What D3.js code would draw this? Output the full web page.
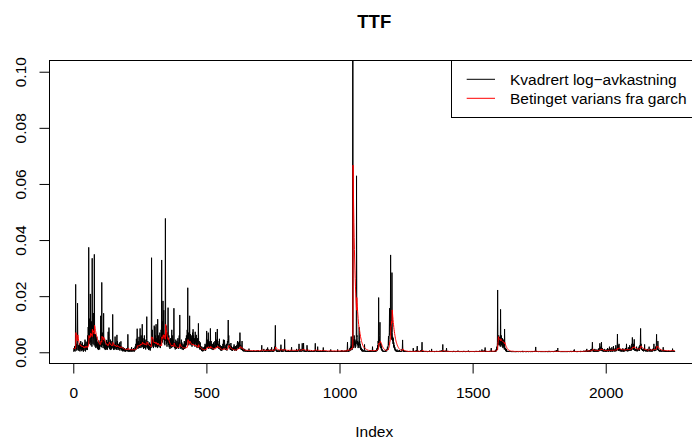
<!DOCTYPE html>
<html>
<head>
<meta charset="utf-8">
<script src="https://cdn.jsdelivr.net/npm/d3@7"></script>
<style>
  html, body { margin: 0; padding: 0; background: #ffffff; }
  svg { display: block; font-family: "Liberation Sans", Arial, Helvetica, sans-serif; }
</style>
</head>
<body>
<svg id="chart" width="692" height="441"></svg>
<script>
// Squared daily log returns for TTF, in units of 1e-4, for index 1..n
const sqLogReturn = [
2,8,15,4,22,10,3,28,242,40,12,30,6,18,55,175,20,8,25,14,5,18,32,9,3,22,12,40,7,16,28,4,11,35,8,20,15,2,26,10,6,30,18,45,12,3,22,38,9,15,
14,35,8,60,25,90,40,374,70,30,55,120,35,208,80,25,60,110,45,20,335,60,95,30,140,50,70,25,349,85,40,20,65,30,15,45,22,56,18,30,12,38,25,8,20,42,15,28,10,35,
20,45,130,30,60,18,249,50,25,70,35,15,40,139,22,30,12,48,20,8,25,14,32,10,44,18,28,9,36,15,73,20,40,88,55,12,30,25,8,45,18,30,10,22,40,15,28,135,35,12,
20,8,30,15,25,10,56,18,35,12,22,9,28,62,15,40,20,8,30,14,25,10,18,35,6,22,12,28,39,15,8,20,5,14,10,3,18,6,12,4,9,15,3,7,12,2,10,5,8,14,
6,3,10,4,64,12,5,2,8,4,3,9,2,6,4,12,3,5,18,2,7,4,10,3,6,15,4,8,2,12,5,20,8,14,30,10,48,15,25,84,20,35,12,40,18,28,55,15,30,22,
85,25,40,15,60,30,20,45,100,35,18,50,25,12,38,20,60,15,30,45,22,10,35,18,48,127,30,15,25,40,12,30,8,20,14,35,10,25,6,18,30,15,50,337,60,25,80,40,20,35,
15,45,20,95,30,90,25,60,18,40,100,35,20,50,28,15,118,40,22,60,30,18,45,25,70,35,15,55,28,80,40,329,60,110,35,70,183,45,90,150,50,30,65,25,85,477,60,40,95,30,
55,20,70,35,45,159,40,25,60,18,30,45,12,25,50,20,35,15,40,80,25,60,30,18,45,22,35,157,40,20,15,35,10,25,45,18,30,12,40,22,15,28,50,20,35,12,45,60,25,133,
40,20,30,12,25,45,15,35,10,22,18,30,8,25,14,20,40,12,28,15,35,20,50,30,60,25,45,80,40,230,50,35,70,25,45,40,130,55,30,65,40,25,60,35,50,20,45,70,30,82,
40,60,25,45,30,50,20,73,35,55,30,62,20,45,15,35,50,25,40,103,30,15,40,20,10,25,35,12,22,8,15,5,20,10,3,12,8,18,4,10,6,14,20,8,30,12,5,25,15,40,
76,20,35,15,45,25,70,30,12,40,20,35,15,25,85,30,12,40,18,25,10,30,15,22,8,18,35,12,25,15,20,40,15,30,72,25,45,18,35,30,83,25,40,15,30,20,12,25,48,18,
10,25,8,18,5,15,22,6,12,20,8,30,15,45,25,12,35,44,20,10,18,8,25,12,30,15,6,20,40,25,50,115,35,60,20,30,15,25,10,18,8,33,15,22,6,12,18,5,10,14,
8,20,12,28,15,6,18,10,22,8,14,5,18,25,12,30,40,20,15,35,12,25,18,40,22,70,30,15,25,10,18,8,22,40,12,6,15,4,10,3,8,5,12,3,6,2,9,4,7,3,
2,5,3,1,6,2,4,1,3,13,2,4,1,3,5,1,2,6,1,3,4,1,2,5,1,3,2,7,1,2,3,1,5,2,1,4,2,1,6,2,1,3,2,8,1,2,4,1,3,2,
1,4,2,6,1,3,10,25,2,5,1,3,2,4,8,12,2,1,5,3,2,6,1,4,9,3,12,2,5,17,3,6,2,10,4,1,8,3,5,2,6,3,12,4,18,2,7,3,1,5,
3,8,2,12,5,20,8,30,96,15,6,10,3,7,2,5,1,4,8,2,3,6,1,4,2,8,3,12,5,27,4,2,7,1,5,3,10,2,6,4,3,12,8,46,6,3,9,2,5,1,
4,2,6,1,3,5,2,8,1,3,2,5,1,4,2,6,3,1,9,18,2,4,1,3,6,2,1,5,3,2,4,1,7,2,3,1,5,2,12,3,1,4,2,8,3,6,14,30,4,2,
5,2,8,3,12,4,2,6,10,32,4,8,3,15,33,5,2,7,3,1,4,2,6,1,3,8,2,25,5,12,3,1,5,2,4,1,6,2,3,1,2,5,1,3,7,2,1,4,2,3,
1,4,2,6,3,8,2,10,32,5,3,7,2,4,1,6,3,20,2,5,1,3,2,5,1,4,2,1,6,2,3,1,4,2,5,1,8,3,17,2,4,1,3,2,6,1,2,4,1,3,
2,1,3,1,4,2,1,3,2,1,3,2,5,1,2,4,10,2,1,3,1,2,1,4,2,1,3,1,2,5,1,3,2,1,4,1,2,3,1,2,4,1,10,2,1,3,2,1,4,2,
1,3,2,5,1,2,4,1,8,2,3,1,5,2,1,4,2,6,1,3,2,5,1,3,8,2,4,1,12,36,5,2,8,3,1,6,10,4,15,8,20,6,30,56,12,25,8,18,40,4000,
30,15,45,20,60,50,25,40,15,35,20,45,30,629,55,60,25,40,30,15,35,20,45,89,25,40,15,30,10,20,8,15,5,12,3,10,6,2,8,4,5,2,7,28,3,6,1,4,2,5,
1,3,2,6,1,4,2,1,5,2,3,1,4,2,8,1,3,2,5,1,2,6,3,20,4,1,5,2,3,1,4,2,6,1,3,8,2,5,10,4,15,6,25,10,40,30,195,20,45,35,
60,107,25,40,15,30,10,20,6,12,4,8,2,5,1,3,6,2,4,1,3,5,2,8,4,10,3,6,12,20,15,8,30,58,25,45,70,157,60,100,80,347,120,60,90,45,284,70,40,55,
30,50,20,35,15,25,10,18,6,12,4,8,3,6,2,10,4,1,5,3,2,6,1,4,8,2,3,1,5,2,4,1,3,10,6,15,44,5,2,8,3,1,4,2,6,1,3,2,1,4,
1,2,1,3,1,2,4,1,2,1,3,1,2,1,5,2,1,3,1,2,1,4,2,1,3,6,15,2,1,3,1,2,5,1,3,1,2,8,1,4,10,22,3,1,2,5,1,3,1,2,
4,1,2,6,1,3,8,2,12,36,3,1,5,2,1,3,1,4,2,1,2,1,3,1,5,2,1,2,4,1,1,3,2,1,4,1,2,6,1,3,1,2,1,4,2,12,1,3,1,2,
1,2,1,3,1,1,4,2,1,2,3,1,2,1,5,1,2,1,3,1,2,4,1,2,1,3,1,6,2,1,3,1,2,5,8,2,10,28,3,1,2,4,1,3,1,2,6,1,2,1,
4,15,2,1,3,1,2,5,1,2,1,3,1,2,1,4,1,2,1,3,1,2,1,1,3,1,2,1,5,1,2,1,3,1,2,1,1,4,1,2,1,3,1,2,6,1,2,1,3,1,
2,1,1,3,1,2,1,4,1,2,1,1,3,1,2,1,5,1,2,1,3,1,2,1,1,4,1,2,1,3,1,2,1,6,1,2,1,3,1,1,2,1,4,1,2,1,3,1,2,1,
3,1,2,1,4,1,2,1,1,3,1,2,5,1,2,1,3,1,2,1,4,1,2,1,3,1,6,2,1,3,1,2,4,1,10,2,1,3,6,2,1,4,2,8,3,5,17,2,4,1,
2,1,3,1,2,4,1,2,1,3,1,2,5,1,3,2,1,4,8,15,2,1,3,1,2,1,4,2,1,3,2,1,5,3,1,6,2,10,4,12,20,8,35,222,40,25,50,60,30,45,
25,55,35,20,153,40,30,60,25,45,20,50,35,15,30,45,20,25,10,83,20,10,15,5,8,3,12,2,6,1,4,2,3,1,5,2,1,3,1,2,1,3,1,2,1,1,4,1,2,1,
1,2,1,1,3,1,1,2,1,1,2,1,1,4,1,1,2,1,3,1,1,2,1,1,3,1,2,1,1,2,1,1,3,1,2,1,1,5,1,1,2,1,1,3,1,2,1,1,2,1,
1,3,1,1,2,1,4,1,1,2,1,1,2,1,3,1,1,2,1,1,3,1,2,1,1,4,1,2,1,3,1,2,1,5,2,6,19,3,1,2,4,1,2,1,3,1,1,2,1,3,
1,2,1,1,3,1,2,1,1,4,1,1,2,1,3,1,1,2,1,1,2,1,4,1,1,2,1,3,1,1,1,3,1,2,1,1,5,1,2,1,1,2,1,1,3,1,2,1,4,1,
2,1,1,3,1,2,1,5,1,2,1,3,6,2,8,1,4,2,10,15,3,1,2,4,1,2,1,3,1,1,2,1,1,3,1,2,1,1,4,1,1,2,1,3,1,1,2,1,1,3,
1,1,2,1,4,1,1,2,1,3,1,2,1,1,3,1,2,1,5,1,1,2,1,3,1,4,1,2,6,2,3,10,2,1,4,1,2,1,3,1,1,2,1,4,1,1,3,1,2,1,
2,1,3,1,1,5,1,2,1,3,1,4,2,1,3,1,2,6,1,2,3,1,4,2,6,1,3,8,12,2,4,1,6,2,3,5,1,8,2,4,6,2,10,3,5,12,4,8,15,36,
6,3,10,2,5,8,1,4,12,3,7,2,5,10,3,6,1,4,8,2,5,12,3,8,15,4,10,32,6,12,8,20,5,36,10,4,15,6,3,10,5,2,8,4,12,3,6,1,5,9,
3,7,2,10,4,6,15,3,8,2,5,12,4,20,6,3,9,2,14,5,8,3,18,6,2,10,4,7,22,5,3,12,6,9,2,15,5,25,8,4,10,6,20,65,12,8,25,5,15,30,
8,15,4,10,6,3,12,5,8,2,6,10,3,14,5,8,2,12,4,7,3,9,5,15,6,10,4,30,8,12,5,3,10,6,18,4,8,12,6,25,10,5,15,8,20,6,12,30,15,53,
25,10,18,8,30,12,46,15,6,10,5,12,8,4,10,20,6,3,8,5,12,6,15,8,20,10,5,25,12,35,85,20,30,10,15,8,12,5,10,6,8,3,12,6,10,28,5,8,3,6,
4,10,6,3,8,2,12,5,7,3,6,10,20,4,8,2,5,12,3,6,4,8,2,10,5,3,12,6,15,8,30,6,10,4,12,8,20,5,15,25,64,15,10,20,8,40,12,6,10,4,
8,3,6,2,10,4,7,2,5,3,6,2,8,4,10,18,3,6,2,5,3,7,2,4,1,6,3,2,5,1,4,2,3,1,6,2,4,1,3,2,5,1,3,2,4,1,2,6,3,2,
13,4,2,6,3,1,5,2,4,3
];

// Conditional variance from the fitted GARCH model, same units and indexing
const garchVariance = [
15,14,14,15,14,15,14,14,15,70,62,56,50,45,42,40,62,55,48,43,38,34,32,31,28,25,25,23,25,22,21,22,20,19,21,19,20,18,17,19,17,16,18,18,21,19,17,19,21,19,
19,18,19,18,22,21,27,26,60,56,51,51,57,54,68,68,62,61,65,61,56,82,78,78,72,76,72,70,65,96,92,85,77,75,70,64,61,56,55,50,47,43,42,40,36,34,34,31,31,28,
29,28,29,39,37,39,36,57,55,51,52,49,45,44,53,49,46,42,42,39,35,33,31,31,28,29,27,27,25,26,24,29,28,29,34,36,33,32,30,27,28,26,26,24,24,26,24,24,35,34,
31,29,27,27,25,24,22,25,23,23,21,21,19,20,24,22,23,22,20,21,20,20,18,18,19,17,18,17,18,20,19,17,17,16,15,15,14,14,13,13,12,12,12,11,11,11,10,10,10,10,
10,10,9,10,9,15,14,13,12,12,11,10,10,9,9,9,9,9,9,10,9,9,9,9,9,9,10,9,9,9,9,9,10,10,10,12,12,15,15,16,23,22,23,22,23,22,22,25,24,24,
23,29,28,29,27,30,29,28,29,36,35,32,33,31,29,30,28,31,29,29,30,28,26,27,25,27,37,35,32,31,31,29,29,27,26,24,25,23,23,21,20,21,20,23,55,54,50,52,50,46,
42,38,36,33,36,34,36,33,34,31,30,35,33,30,30,28,26,33,31,29,29,27,26,25,24,27,25,23,25,23,26,25,55,52,55,50,49,61,56,57,63,58,53,50,47,47,100,90,80,76,
69,63,57,53,49,46,52,48,43,41,37,35,33,30,28,27,25,24,22,22,26,24,25,23,22,22,21,20,33,31,28,26,24,22,21,21,20,19,18,18,17,16,16,17,16,17,16,18,20,19,
30,28,26,24,22,21,21,20,19,18,17,17,16,16,15,15,15,16,15,15,15,15,15,16,16,18,17,18,22,22,45,42,39,38,35,33,31,40,38,35,35,33,30,30,28,28,26,26,28,26,
29,27,27,25,25,23,24,22,25,23,24,22,24,21,21,19,19,20,18,18,27,25,22,21,20,18,17,17,16,15,14,13,12,12,11,10,10,10,10,9,9,9,9,10,9,10,10,9,10,10,
11,17,16,17,15,17,16,20,19,17,17,16,17,15,15,21,20,18,19,17,17,15,15,14,13,12,12,13,12,12,11,11,13,12,13,18,17,18,16,17,17,22,21,20,18,18,17,15,15,17,
15,14,14,12,12,11,11,11,10,10,10,9,10,10,12,12,11,12,14,13,12,12,11,11,10,11,10,9,9,11,11,14,23,23,24,22,22,20,19,17,15,14,15,14,13,12,12,11,10,10,
10,9,9,8,9,9,8,8,8,8,8,8,8,8,9,9,10,12,12,12,13,12,13,13,15,15,20,20,18,18,16,16,14,14,16,14,13,12,11,10,9,9,8,8,7,7,7,7,7,7,
7,7,7,7,7,7,7,7,6,6,7,7,6,6,6,6,6,6,6,6,6,6,6,6,6,6,6,6,6,6,6,6,6,6,6,6,6,6,6,6,6,6,6,6,6,6,6,6,6,6,
6,6,6,6,6,6,6,7,9,8,8,8,7,7,7,7,8,7,7,7,7,7,7,7,7,7,7,8,7,7,8,8,7,7,7,7,7,7,7,7,7,7,7,8,7,9,8,8,7,7,
7,7,7,7,7,7,9,9,11,19,18,16,15,14,13,12,11,10,10,9,9,9,9,8,8,8,8,8,8,8,10,9,9,8,8,8,8,8,8,8,8,8,8,8,11,10,9,9,8,8,
8,7,7,7,7,7,7,7,7,7,7,7,7,7,7,7,7,7,7,7,8,8,7,7,7,7,7,7,7,7,7,7,7,7,7,7,7,7,7,8,7,7,7,7,7,7,7,8,10,9,
9,8,8,8,8,8,8,7,8,8,10,9,9,9,9,11,10,9,9,8,8,8,8,7,7,7,7,7,9,8,8,8,7,7,7,7,7,7,7,7,7,6,6,6,6,6,6,6,6,6,
6,6,6,6,6,6,6,6,7,9,9,8,8,7,7,7,7,7,8,8,7,7,7,7,7,6,6,6,6,6,6,6,6,6,6,6,6,6,6,7,7,7,6,6,6,6,6,6,6,6,
6,6,6,5,5,5,5,5,5,5,5,5,5,5,5,5,5,6,6,5,5,5,5,5,5,5,5,5,5,5,5,5,5,5,5,5,5,5,5,5,5,5,5,6,5,5,5,5,5,5,
5,5,5,5,5,5,5,5,5,5,5,5,5,5,5,5,5,5,5,5,5,5,5,5,5,5,5,5,5,6,9,8,8,8,7,7,7,8,8,8,8,9,9,11,15,14,15,14,14,16,
667,590,521,463,410,367,329,293,262,233,208,186,167,150,195,177,162,146,133,120,108,99,89,82,81,74,67,62,56,51,47,42,38,35,32,29,26,24,22,20,18,17,16,15,16,15,14,13,12,11,
11,10,10,9,9,8,8,8,7,7,7,7,6,6,6,6,6,6,6,6,6,6,6,6,8,7,7,6,6,6,6,6,6,6,6,6,6,6,6,7,7,8,8,10,10,13,15,33,31,32,
31,33,40,37,36,33,32,29,27,24,22,20,18,16,15,13,12,11,10,9,9,8,8,7,7,7,7,7,7,8,9,10,10,12,16,17,20,24,37,38,43,46,90,95,100,110,105,151,140,128,
117,106,98,88,81,73,67,61,55,50,45,41,37,34,31,28,26,23,21,19,17,16,14,13,12,11,10,9,9,8,8,7,7,7,7,7,8,12,11,10,9,8,7,7,6,6,6,5,5,5,
5,5,4,4,4,4,4,4,3,3,3,3,3,3,3,3,3,3,3,3,3,3,3,3,3,3,3,4,4,3,3,3,3,3,3,3,3,3,4,3,3,4,5,5,4,4,4,4,4,3,
3,3,3,3,3,3,3,4,4,5,8,7,6,6,5,5,5,4,4,4,4,4,3,3,3,3,3,3,3,3,3,3,3,3,3,3,3,3,3,3,3,3,3,3,3,3,4,4,3,3,
3,3,3,3,3,3,3,3,3,3,3,3,3,3,3,3,3,3,3,3,3,3,3,3,3,3,3,3,3,3,3,3,3,3,3,4,4,5,7,6,6,5,5,5,4,4,4,4,4,3,
3,4,5,4,4,4,3,3,3,3,3,3,3,3,3,3,3,3,3,3,3,3,3,3,3,3,3,3,3,3,3,3,3,3,3,3,3,3,3,3,3,3,3,3,3,3,3,3,3,3,
3,3,3,3,3,3,3,3,3,3,3,3,3,3,3,3,3,3,3,3,3,3,3,3,3,3,3,3,3,3,3,3,3,3,3,3,3,3,3,3,3,3,3,3,3,3,3,3,3,3,
3,3,3,3,3,3,3,3,3,3,3,3,3,3,3,3,3,3,3,3,3,3,3,3,3,3,3,3,3,3,3,3,3,3,3,4,4,3,3,3,3,3,3,4,4,4,4,5,5,4,
4,4,4,3,3,3,3,3,3,3,3,3,3,3,3,3,3,3,4,4,5,5,4,4,4,4,4,4,4,4,4,4,4,4,4,4,4,5,5,6,7,8,8,10,30,40,56,52,50,48,
47,45,44,43,41,48,46,43,43,41,40,39,40,39,37,36,36,34,32,30,35,32,29,26,23,21,19,17,15,13,12,11,10,9,8,8,7,7,6,6,5,5,5,5,4,4,4,4,4,4,
4,4,4,4,3,3,3,3,3,3,3,3,3,3,3,3,3,3,3,3,3,3,3,3,3,3,3,3,3,3,3,3,3,3,3,3,3,3,3,3,3,3,3,3,3,3,3,3,3,3,
3,3,3,3,3,3,3,3,3,3,3,3,3,3,3,3,3,3,3,3,3,3,3,3,3,3,3,3,3,3,3,3,3,3,3,3,3,5,5,4,4,3,3,3,3,3,3,3,3,3,
3,3,3,3,3,3,3,3,3,3,3,3,3,3,3,3,3,3,3,3,3,3,3,3,3,3,3,3,3,3,3,3,3,3,3,3,3,3,3,3,3,3,3,3,3,3,3,3,3,3,
3,3,3,3,3,3,3,3,3,3,3,3,3,3,3,3,3,3,3,3,4,5,4,3,3,3,3,3,3,3,3,3,3,3,3,3,3,3,3,3,3,3,3,3,3,3,3,3,3,3,
3,3,3,3,3,3,3,3,3,3,3,3,3,3,3,3,3,3,3,3,3,3,3,3,3,3,3,3,3,3,3,3,4,3,3,3,3,3,3,3,3,3,3,3,3,3,3,3,3,3,
3,3,3,3,3,3,3,3,3,3,3,3,3,3,3,3,3,3,4,4,4,4,4,4,4,4,4,4,5,5,5,5,5,5,5,5,5,5,5,5,5,5,5,6,6,6,6,6,6,7,
10,9,9,9,8,8,8,7,7,8,7,7,7,7,7,7,7,6,6,6,6,6,6,6,6,7,7,7,10,9,9,9,10,9,12,11,10,10,9,8,8,8,7,7,7,7,7,6,6,6,
6,6,6,6,6,6,6,7,7,7,7,7,7,7,8,8,7,7,7,7,7,7,7,8,8,7,7,7,7,8,8,8,8,8,8,8,8,8,9,9,8,8,8,9,15,14,13,14,13,13,
16,15,14,13,12,11,11,11,10,10,9,9,9,9,9,9,9,8,9,8,8,8,8,8,8,8,9,8,10,10,10,10,9,9,9,10,10,9,10,10,11,11,11,11,11,12,12,12,14,14,
18,18,17,17,16,17,16,20,19,17,16,15,15,14,13,13,14,13,12,12,11,12,11,12,11,13,12,12,13,13,15,22,22,22,20,19,18,17,16,15,14,13,12,12,11,11,12,11,11,10,
10,9,9,9,8,8,8,8,8,8,8,8,8,9,9,8,8,8,8,8,8,8,8,8,8,8,8,8,8,9,9,11,10,10,10,10,10,11,11,11,12,21,21,19,19,18,20,19,17,16,
15,14,13,12,11,10,10,9,9,8,8,8,8,7,7,8,8,7,7,7,7,7,6,6,6,6,6,6,6,6,6,6,6,6,6,6,6,6,6,6,6,6,6,6,6,6,6,6,6,6,
6,7,7,6,6,6,6,6,6,6
];

const valueUnit = 1e-4;
const xTicks = [0, 500, 1000, 1500, 2000];
const yTicks = [0, 0.02, 0.04, 0.06, 0.08, 0.10];
const yTickLabels = ["0.00", "0.02", "0.04", "0.06", "0.08", "0.10"];
const yLimits = [0, 0.1];
const legendLabels = ["Kvadrert log\u2212avkastning", "Betinget varians fra garch"];
const seriesColors = ["#000000", "#ff0000"];
const chartTitle = "TTF";
const xLabel = "Index";

const svg = d3.select("#chart");
const W = 692, H = 441;
const plot = { left: 49.5, right: 699, top: 60.5, bottom: 363.5 };
const fontSize = 15.5;

const n = sqLogReturn.length;
const xPad = 0.04 * (n - 1);
const x = d3.scaleLinear().domain([1 - xPad, n + xPad]).range([plot.left, plot.right]);
const yPad = 0.04 * (yLimits[1] - yLimits[0]);
const y = d3.scaleLinear().domain([yLimits[0] - yPad, yLimits[1] + yPad]).range([plot.bottom, plot.top]);

svg.append("rect").attr("width", W).attr("height", H).attr("fill", "#ffffff");

svg.append("defs").append("clipPath").attr("id", "plot-clip")
  .append("rect")
  .attr("x", plot.left).attr("y", plot.top)
  .attr("width", plot.right - plot.left).attr("height", plot.bottom - plot.top);

const line = d3.line()
  .x((d, i) => x(i + 1))
  .y(d => y(d * valueUnit));

const lines = svg.append("g").attr("clip-path", "url(#plot-clip)");
[sqLogReturn, garchVariance].forEach((series, k) => {
  lines.append("path")
    .datum(series)
    .attr("d", line)
    .attr("fill", "none")
    .attr("stroke", seriesColors[k])
    .attr("stroke-width", 1)
    .attr("stroke-linejoin", "round");
});

// Frame round the plotting region
svg.append("rect")
  .attr("x", plot.left).attr("y", plot.top)
  .attr("width", plot.right - plot.left).attr("height", plot.bottom - plot.top)
  .attr("fill", "none").attr("stroke", "#000").attr("stroke-width", 1);

// Bottom axis
const xAxisG = svg.append("g")
  .attr("transform", `translate(0,${plot.bottom})`)
  .call(d3.axisBottom(x).tickValues(xTicks).tickSize(10).tickPadding(13).tickFormat(d3.format("d")));
xAxisG.select(".domain").remove();
xAxisG.selectAll(".tick line").attr("stroke", "#000");
xAxisG.selectAll(".tick text")
  .attr("fill", "#000").attr("font-size", fontSize)
  .attr("font-family", "Liberation Sans, Arial, sans-serif");
xAxisG.attr("font-family", null).attr("font-size", null);

// Left axis with labels running along the axis
const yAxisG = svg.append("g")
  .attr("transform", `translate(${plot.left},0)`)
  .call(d3.axisLeft(y).tickValues(yTicks).tickSize(10).tickFormat((d, i) => yTickLabels[i]));
yAxisG.select(".domain").remove();
yAxisG.selectAll(".tick line").attr("stroke", "#000");
yAxisG.selectAll(".tick text")
  .attr("x", null).attr("dy", null)
  .attr("text-anchor", "middle")
  .attr("transform", "translate(-23.5,0) rotate(-90)")
  .attr("fill", "#000").attr("font-size", fontSize)
  .attr("font-family", "Liberation Sans, Arial, sans-serif");
yAxisG.attr("font-family", null).attr("font-size", null);

// Title and axis label
svg.append("text")
  .attr("x", (plot.left + plot.right) / 2).attr("y", 28.3)
  .attr("text-anchor", "middle")
  .attr("font-size", 18.5).attr("font-weight", "bold")
  .text(chartTitle);

svg.append("text")
  .attr("x", (plot.left + plot.right) / 2).attr("y", 437)
  .attr("text-anchor", "middle")
  .attr("font-size", fontSize)
  .text(xLabel);

// Legend in the top right corner
const legend = svg.append("g");
legend.append("rect")
  .attr("x", 451.5).attr("y", plot.top)
  .attr("width", plot.right - 451.5).attr("height", 57)
  .attr("fill", "#fff").attr("stroke", "#000").attr("stroke-width", 1);
legendLabels.forEach((label, i) => {
  const cy = 79.3 + i * 19;
  legend.append("line")
    .attr("x1", 466.7).attr("x2", 495)
    .attr("y1", cy).attr("y2", cy)
    .attr("stroke", seriesColors[i]).attr("stroke-width", 1);
  legend.append("text")
    .attr("x", 510).attr("y", cy + 5.5)
    .attr("font-size", fontSize)
    .text(label);
});
</script>
</body>
</html>
